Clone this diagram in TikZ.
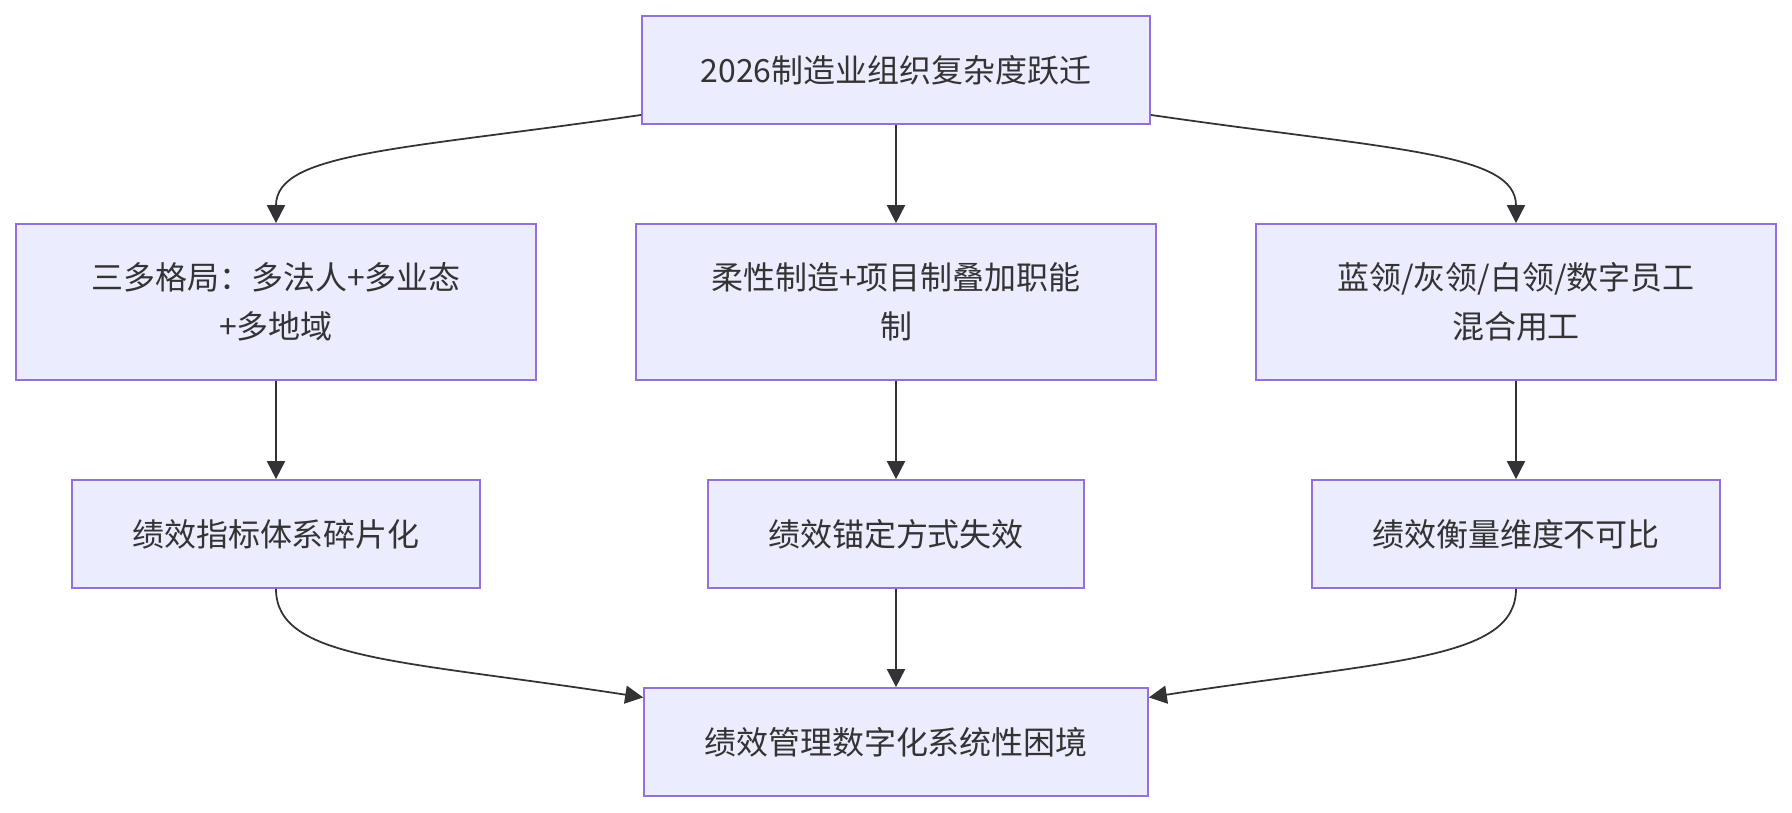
\documentclass[tikz,border=0pt]{standalone}
\usepackage{fontspec}
\setmainfont{Noto Sans CJK SC}
\usepackage{tikz}
\usetikzlibrary{arrows.meta}
\definecolor{boxfill}{HTML}{ECECFF}
\definecolor{boxline}{HTML}{9370DB}
\definecolor{inkgray}{HTML}{333333}
\tikzset{
  flowarrow/.style={draw=inkgray, line width=1pt, -{Triangle[length=0.36cm, width=0.36cm]}},
  flowbox/.style={draw=boxline, line width=1pt, fill=boxfill, text=inkgray, minimum height=2.16cm, align=center, inner sep=0pt},
  tallbox/.style={flowbox, minimum width=10.4cm, minimum height=3.12cm}
}

\begin{document}
\begin{tikzpicture}[x=0.02cm, y=-0.02cm, every node/.style={font=\fontsize{18.2pt}{27.6pt}\selectfont}]
  \useasboundingbox (0,0) rectangle (1792,812);
  \node[flowbox, minimum width=10.16cm] (top) at (896,70) {2026制造业组织复杂度跃迁};
  \node[tallbox] (layout) at (276,302) {三多格局：多法人+多业态\\+多地域};
  \node[tallbox] (flex) at (896,302) {柔性制造+项目制叠加职能\\制};
  \node[tallbox] (staff) at (1516,302) {蓝领/灰领/白领/数字员工\\混合用工};
  \node[flowbox, minimum width=8.16cm] (frag) at (276,534) {绩效指标体系碎片化};
  \node[flowbox, minimum width=7.52cm] (anchor) at (896,534) {绩效锚定方式失效};
  \node[flowbox, minimum width=8.16cm] (measure) at (1516,534) {绩效衡量维度不可比};
  \node[flowbox, minimum width=10.08cm] (bot) at (896,742) {绩效管理数字化系统性困境};
  \draw[flowarrow] (top.190) .. controls (400,150) and (276,152) .. (layout.north);
  \draw[flowarrow] (top) -- (flex);
  \draw[flowarrow] (top.350) .. controls (1392,150) and (1516,152) .. (staff.north);
  \draw[flowarrow] (layout) -- (frag);
  \draw[flowarrow] (flex) -- (anchor);
  \draw[flowarrow] (staff) -- (measure);
  \draw[flowarrow] (frag.south) .. controls (276,660) and (400,660) .. (bot.170);
  \draw[flowarrow] (anchor) -- (bot);
  \draw[flowarrow] (measure.south) .. controls (1516,660) and (1392,660) .. (bot.10);
\end{tikzpicture}
\end{document}
